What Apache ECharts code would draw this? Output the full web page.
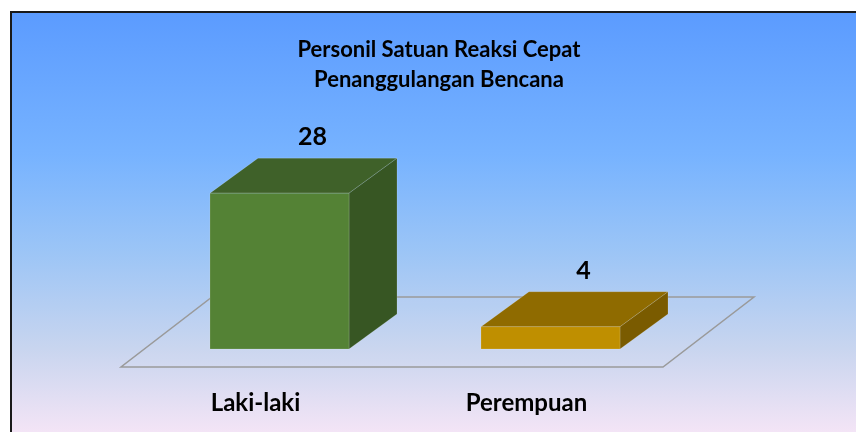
<!DOCTYPE html>
<html>
<head>
<meta charset="utf-8">
<script src="https://cdn.jsdelivr.net/npm/echarts@6/dist/echarts.min.js"></script>
<style>
html,body{margin:0;padding:0;background:#fff;}
#chart{width:856px;height:432px;}
</style>
</head>
<body>
<div id="chart"></div>
<script>
// ---- data ----
const titleLines = ['Personil Satuan Reaksi Cepat', 'Penanggulangan Bencana'];
const categories = ['Laki-laki', 'Perempuan'];
const values = [28, 4];

// ---- styles ----
const faceColors = [
  { front: '#548235', top: '#3F6129', side: '#375623' },
  { front: '#BF8F00', top: '#8F6B00', side: '#7A5B00' }
];
const FONT = 'Lato, "Liberation Sans", sans-serif';
const barDepth = [48, -35];

const chart = echarts.init(document.getElementById('chart'), null, { renderer: 'canvas' });

function renderBar(params, api) {
  const i = api.value(0);
  const v = api.value(1);
  const base = api.coord([i, 0]);
  const top = api.coord([i, v]);
  const bw = api.size([1, 0])[0] * 0.513;
  const x0 = base[0] - bw / 2, x1 = base[0] + bw / 2;
  const yb = base[1], yt = top[1];
  const dx = barDepth[0], dy = barDepth[1];
  const c = faceColors[params.dataIndex % faceColors.length];
  return {
    type: 'group',
    children: [
      { type: 'polygon', shape: { points: [[x0, yt], [x1, yt], [x1 + dx, yt + dy], [x0 + dx, yt + dy]] },
        style: { fill: c.top, stroke: 'rgba(255,255,255,0.15)', lineWidth: 1 } },
      { type: 'polygon', shape: { points: [[x1, yt], [x1 + dx, yt + dy], [x1 + dx, yb + dy], [x1, yb]] },
        style: { fill: c.side, stroke: 'rgba(255,255,255,0.15)', lineWidth: 1 } },
      { type: 'rect', shape: { x: x0, y: yt, width: bw, height: yb - yt },
        style: { fill: c.front, stroke: 'rgba(255,255,255,0.15)', lineWidth: 1 } },
      { type: 'text', x: base[0] + 33, y: yt + dy - 21,
        style: { text: String(v), fill: '#000', font: 'bold 25px ' + FONT, align: 'center', verticalAlign: 'middle' } }
    ]
  };
}

function renderFloor(params, api) {
  const cs = params.coordSys;
  const yb = cs.y + cs.height;
  const fx = cs.x, rx = cs.x + cs.width;
  return {
    type: 'polygon',
    shape: { points: [[fx - 23, yb + 18], [rx - 23, yb + 18], [rx + 68, yb - 52], [fx + 68, yb - 52]] },
    style: { fill: 'rgba(255,255,255,0.04)', stroke: '#9a9a9a', lineWidth: 1.5 }
  };
}

chart.setOption({
  animation: false,
  graphic: [{
    type: 'rect', z: -10, silent: true,
    shape: { x: 11, y: 12, width: 900, height: 480 },
    style: {
      fill: new echarts.graphic.LinearGradient(0, 0, 0, 1, [
        { offset: 0, color: '#5B9BFF' },
        { offset: 0.3, color: '#77B3FF' },
        { offset: 0.5, color: '#9CC5F6' },
        { offset: 0.7, color: '#C8D5EF' },
        { offset: 0.88, color: '#F5E5F6' },
        { offset: 1, color: '#FCE8F7' }
      ]),
      stroke: '#1a1a1a', lineWidth: 2
    }
  }],
  title: {
    text: titleLines.join('\n'),
    left: 434, top: 30, textAlign: 'center',
    textStyle: { fontFamily: FONT, fontWeight: 'bold', fontSize: 22, lineHeight: 30, color: '#000' }
  },
  grid: { left: 144, right: 170, top: 182, bottom: 83 },
  xAxis: {
    type: 'category', data: categories,
    axisLine: { show: false }, axisTick: { show: false },
    axisLabel: { margin: 42, padding: [0, 48, 0, 0], fontFamily: FONT, fontWeight: 'bold', fontSize: 24, color: '#000' }
  },
  yAxis: { type: 'value', min: 0, max: 30, show: false, splitLine: { show: false } },
  series: [
    { type: 'custom', renderItem: renderFloor, data: [[0, 0]], z: 1, silent: true },
    { type: 'custom', renderItem: renderBar, data: categories.map((c, i) => [i, values[i]]), z: 2,
      encode: { x: 0, y: 1 } }
  ]
});
</script>
</body>
</html>
